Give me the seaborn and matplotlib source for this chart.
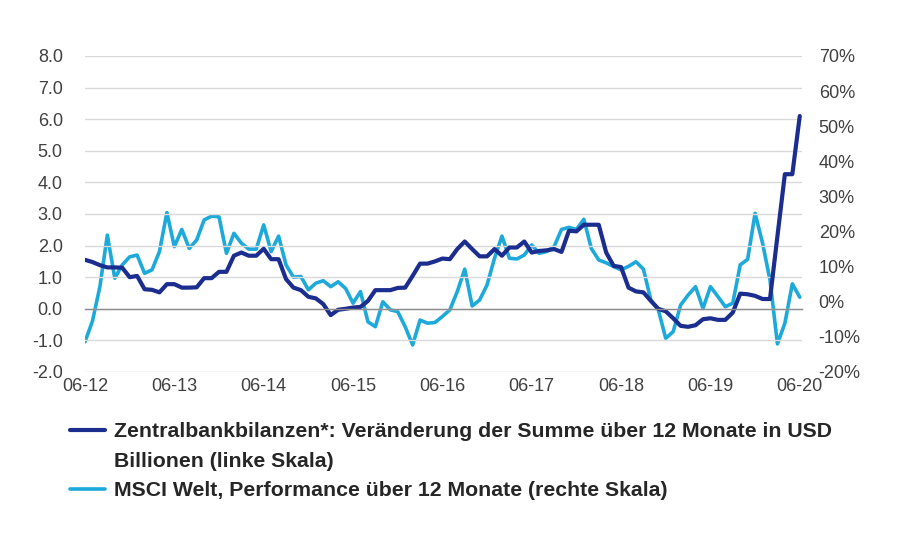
import numpy as np
import pandas as pd
import matplotlib
matplotlib.use('Agg')
import matplotlib.pyplot as plt
from matplotlib.lines import Line2D
import seaborn as sns

### DATA ###

# monthly, 06-2012 .. 06-2020
months = pd.date_range('2012-06-01', '2020-06-01', freq='MS')

# Zentralbankbilanzen, change of total over 12 months, USD trillion (left axis)
cb_change = [
    1.55, 1.48, 1.38, 1.31, 1.31, 1.30, 1.00, 1.04, 0.62, 0.60,
    0.52, 0.78, 0.78, 0.67, 0.67, 0.68, 0.97, 0.97, 1.17, 1.17,
    1.68, 1.78, 1.68, 1.68, 1.90, 1.57, 1.57, 0.94, 0.67, 0.59,
    0.38, 0.33, 0.15, -0.20, -0.03, 0.00, 0.04, 0.06, 0.25, 0.59,
    0.59, 0.59, 0.66, 0.67, 1.04, 1.43, 1.43, 1.50, 1.59, 1.57,
    1.89, 2.13, 1.89, 1.66, 1.66, 1.89, 1.68, 1.94, 1.94, 2.13,
    1.78, 1.83, 1.85, 1.89, 1.80, 2.47, 2.45, 2.66, 2.66, 2.66,
    1.78, 1.36, 1.32, 0.67, 0.55, 0.52, 0.25, 0.00, -0.08, -0.30,
    -0.54, -0.57, -0.52, -0.33, -0.30, -0.35, -0.35, -0.12, 0.48, 0.46,
    0.41, 0.31, 0.31, 2.30, 4.26, 4.26, 6.10,
]

# MSCI Welt, performance over 12 months in % (right axis)
msci_perf = [
    -11.4, -5.5, 4.3, 19.0, 6.7, 10.5, 12.8, 13.3, 8.1, 9.1,
    14.3, 25.4, 15.7, 20.6, 15.2, 17.6, 23.3, 24.4, 24.2, 13.8,
    19.5, 16.7, 15.0, 15.0, 21.9, 14.3, 18.7, 10.5, 7.0, 7.2,
    3.4, 5.3, 6.0, 4.3, 5.7, 3.8, -0.4, 2.9, -5.7, -7.1,
    0.0, -2.3, -2.8, -7.1, -12.3, -5.2, -6.1, -5.9, -4.2, -2.3,
    2.9, 9.3, -1.2, 0.5, 4.8, 12.4, 18.7, 12.4, 12.2, 13.3,
    16.2, 13.8, 14.3, 15.7, 20.6, 21.2, 20.6, 23.5, 15.2, 11.9,
    11.1, 10.0, 9.1, 10.1, 11.4, 9.3, 0.5, -2.3, -10.4, -8.5,
    -0.9, 1.9, 4.3, -1.9, 4.3, 1.5, -1.4, -0.4, 10.5, 12.1,
    25.2, 16.7, 6.2, -12.0, -6.1, 5.1, 1.3,
]

tick_labels = ['06-12', '06-13', '06-14', '06-15', '06-16', '06-17', '06-18', '06-19', '06-20']

label_cb = 'Zentralbankbilanzen*: Veränderung der Summe über 12 Monate in USD'
label_cb2 = 'Billionen (linke Skala)'
label_msci = 'MSCI Welt, Performance über 12 Monate (rechte Skala)'

df = pd.DataFrame({'month': months, 'cb': cb_change, 'msci': msci_perf})
df['x'] = np.arange(len(df))

### PLOT ###

sns.set_style('white')
plt.rcParams['font.family'] = ['Liberation Sans', 'DejaVu Sans']

dark = '#1b2d8f'
light = '#1ea9db'
txt = '#404040'

fig = plt.figure(figsize=(9, 5.4), dpi=100)
ax = fig.add_axes([85/900, 1-372/540, (802-85)/900, (372-56)/540])
ax2 = ax.twinx()

sns.lineplot(data=df, x='x', y='msci', ax=ax2, color=light, linewidth=2.6)
sns.lineplot(data=df, x='x', y='cb', ax=ax, color=dark, linewidth=3.0)
ax.set_zorder(ax2.get_zorder() + 1)
ax.patch.set_visible(False)

ax.set_ylim(-2, 8)
ax.set_yticks(np.arange(-2, 9, 1))
ax.set_yticklabels([f'{v:.1f}' for v in np.arange(-2, 9, 1)])
ax2.set_ylim(-20, 70)
ax2.set_yticks(np.arange(-20, 71, 10))
ax2.set_yticklabels([f'{v}%' for v in range(-20, 71, 10)])

ax.set_xlim(0, 96.3)
ax.set_xticks(np.arange(0, 97, 12))
ax.set_xticklabels(tick_labels)

ax.yaxis.grid(True, color='#d9d9d9', linewidth=1.0)
ax.set_axisbelow(True)
for s in ['top', 'right', 'left']:
    ax.spines[s].set_visible(False)
    ax2.spines[s].set_visible(False)
ax2.spines['bottom'].set_visible(False)
ax.spines['bottom'].set_position(('data', 0))
ax.spines['bottom'].set_color('#8c8c8c')
ax.spines['bottom'].set_linewidth(1.0)

ax.tick_params(axis='x', direction='out', length=4, width=1, color='#8c8c8c', pad=46,
               labelsize=13, labelcolor=txt)
ax.tick_params(axis='y', length=0, pad=16, labelsize=13, labelcolor=txt)
ax2.tick_params(axis='y', length=0, pad=12, labelsize=13, labelcolor=txt)

ax.set_xlabel('')
ax.set_ylabel('')
ax2.set_ylabel('')

handles = [Line2D([], [], color=dark, linewidth=3.0),
           Line2D([], [], color='none'),
           Line2D([], [], color=light, linewidth=2.6)]
fig.legend(handles, [label_cb, label_cb2, label_msci], loc='upper left',
           bbox_to_anchor=(70/900, 1-422/540), frameon=False, borderpad=0,
           borderaxespad=0, handlelength=1.65, handletextpad=0.4, labelspacing=0.5,
           prop={'size': 15.3, 'weight': 'bold'}, labelcolor='#262626')

fig.savefig('out.png', dpi=100)
